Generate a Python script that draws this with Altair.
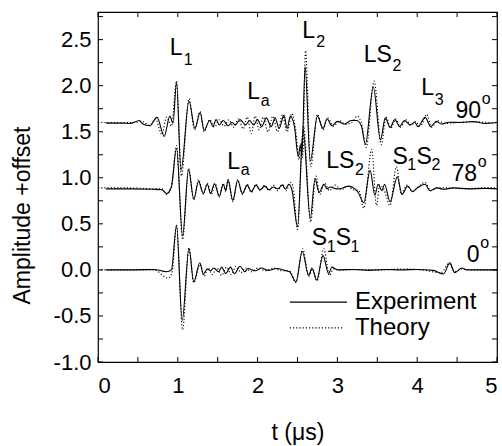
import altair as alt
import pandas as pd

# ---------------- data ----------------
exp90_t = [0.10,0.30,0.40,0.52,0.56,0.65,0.74,0.83,0.90,0.94,0.984,1.04,1.14,1.215,1.28,1.33,1.40,1.44,1.48,1.52,1.57,1.63,1.68,1.72,1.78,1.85,1.90,1.95,2.00,2.05,2.11,2.17,2.22,2.27,2.33,2.37,2.41,2.46,2.51,2.535,2.555,2.595,2.66,2.75,2.82,2.87,2.93,3.00,3.09,3.17,3.24,3.30,3.35,3.45,3.54,3.60,3.66,3.72,3.78,3.84,3.91,3.97,4.01,4.10,4.17,4.24,4.30,4.40,4.55,4.70,4.85,5.00]
exp90_v = [1.594,1.594,1.589,1.622,1.584,1.565,1.656,1.450,1.670,1.594,2.034,1.08,1.833,1.536,1.709,1.517,1.622,1.555,1.632,1.574,1.622,1.565,1.603,1.574,1.632,1.574,1.622,1.574,1.632,1.555,1.651,1.555,1.651,1.536,1.680,1.536,1.670,1.565,1.230,1.354,1.249,2.207,1.182,1.670,1.536,1.641,1.565,1.613,1.584,1.622,1.622,1.565,1.364,1.986,1.412,1.651,1.546,1.632,1.555,1.622,1.574,1.603,1.555,1.656,1.555,1.613,1.584,1.603,1.600,1.610,1.590,1.600]

th90_t = [0.0,0.30,0.45,0.55,0.65,0.72,0.80,0.86,0.92,0.984,1.045,1.14,1.21,1.28,1.33,1.40,1.46,1.52,1.58,1.64,1.70,1.76,1.82,1.87,1.92,1.97,2.02,2.07,2.13,2.19,2.25,2.31,2.37,2.43,2.48,2.52,2.545,2.565,2.60,2.665,2.75,2.82,2.88,2.95,3.03,3.10,3.18,3.25,3.31,3.36,3.46,3.55,3.61,3.67,3.73,3.79,3.86,3.92,3.98,4.04,4.12,4.18,4.26,4.35,4.50,4.70,4.90,5.00]
th90_v = [1.60,1.60,1.60,1.61,1.57,1.64,1.47,1.66,1.56,2.05,1.02,1.86,1.52,1.72,1.50,1.63,1.55,1.63,1.56,1.63,1.55,1.64,1.53,1.66,1.48,1.67,1.52,1.66,1.50,1.67,1.50,1.68,1.50,1.70,1.50,1.20,1.38,1.22,2.38,1.12,1.69,1.52,1.65,1.56,1.62,1.58,1.60,1.67,1.56,1.33,2.05,1.36,1.66,1.54,1.64,1.55,1.63,1.57,1.61,1.56,1.69,1.55,1.62,1.59,1.60,1.61,1.60,1.60]

exp78_t = [0.10,0.40,0.70,0.80,0.86,0.92,0.984,1.06,1.135,1.20,1.26,1.32,1.37,1.41,1.46,1.52,1.57,1.60,1.63,1.69,1.75,1.81,1.87,1.92,1.98,2.03,2.09,2.14,2.20,2.25,2.31,2.35,2.39,2.43,2.50,2.57,2.66,2.72,2.77,2.83,2.87,2.91,2.99,3.07,3.14,3.22,3.26,3.33,3.41,3.47,3.51,3.56,3.59,3.66,3.75,3.81,3.88,3.94,4.00,4.10,4.16,4.25,4.33,4.46,4.65,4.85,5.00]
exp78_v = [0.88,0.88,0.875,0.87,0.83,0.90,1.32,0.37,1.09,0.77,0.96,0.83,0.93,0.83,0.935,0.80,0.93,0.86,0.975,0.755,0.97,0.83,0.92,0.85,0.92,0.87,0.91,0.87,0.90,0.88,0.92,0.875,0.93,0.87,0.47,1.52,0.56,0.99,0.84,0.93,0.88,0.90,0.88,0.89,0.91,0.88,0.84,0.73,1.08,0.81,0.93,0.86,0.93,0.74,1.01,0.82,0.91,0.85,0.89,0.93,0.86,0.89,0.875,0.89,0.88,0.885,0.88]

th78_t = [0.0,0.40,0.70,0.80,0.86,0.92,0.984,1.06,1.135,1.20,1.26,1.32,1.37,1.42,1.47,1.52,1.57,1.60,1.63,1.69,1.75,1.81,1.87,1.92,1.98,2.03,2.09,2.14,2.20,2.25,2.31,2.36,2.41,2.445,2.50,2.575,2.665,2.73,2.78,2.84,2.90,2.97,3.05,3.12,3.20,3.27,3.33,3.43,3.49,3.53,3.58,3.66,3.74,3.80,3.87,3.94,4.01,4.10,4.17,4.26,4.40,4.60,4.80,5.00]
th78_v = [0.89,0.89,0.88,0.88,0.82,0.91,1.35,0.33,1.10,0.76,0.98,0.82,0.94,0.82,0.94,0.79,0.94,0.85,0.98,0.74,0.98,0.82,0.93,0.84,0.93,0.86,0.92,0.86,0.92,0.86,0.93,0.86,0.95,0.90,0.44,1.56,0.52,1.02,0.82,0.94,0.86,0.92,0.87,0.91,0.87,0.86,0.67,1.31,0.70,0.92,0.88,0.70,1.12,0.82,0.92,0.85,0.90,0.95,0.86,0.89,0.89,0.88,0.89,0.89]

exp0_t = [0.10,0.40,0.70,0.86,0.92,0.984,1.055,1.14,1.20,1.276,1.32,1.37,1.41,1.45,1.51,1.55,1.60,1.66,1.71,1.78,1.84,1.88,1.97,2.05,2.13,2.24,2.34,2.40,2.48,2.56,2.64,2.68,2.74,2.82,2.89,2.93,3.00,3.20,3.40,3.60,3.80,4.00,4.20,4.33,4.41,4.47,4.56,4.62,4.80,5.00]
exp0_v = [0.0,0.0,0.005,-0.02,0.0,0.476,-0.55,0.233,-0.131,0.077,-0.045,0.01,-0.01,0.02,-0.02,0.03,-0.04,0.03,-0.04,0.04,-0.02,0.015,-0.01,0.02,-0.005,0.015,-0.005,-0.02,-0.13,0.20,-0.06,0.02,-0.11,0.155,-0.04,0.03,0.0,0.005,-0.005,0.005,0.0,0.005,-0.005,-0.045,0.077,-0.03,0.02,0.0,0.0,0.0]

th0_t = [0.0,0.40,0.70,0.88,0.93,0.984,1.06,1.14,1.20,1.28,1.33,1.38,1.43,1.49,1.55,1.61,1.67,1.73,1.79,1.85,1.92,2.00,2.10,2.20,2.30,2.40,2.48,2.565,2.64,2.69,2.745,2.83,2.90,2.95,3.05,3.30,3.55,3.80,4.05,4.30,4.40,4.47,4.56,4.70,5.00]
th0_v = [0.0,0.0,0.0,-0.09,-0.02,0.49,-0.65,0.24,-0.14,0.06,-0.07,0.02,-0.05,0.02,-0.06,0.03,-0.05,0.04,-0.03,0.02,-0.02,0.02,-0.01,0.02,-0.01,-0.01,-0.14,0.23,-0.07,0.01,-0.12,0.23,-0.06,0.01,0.0,0.005,0.0,0.01,0.0,-0.03,0.07,-0.02,0.01,0.0,0.0]

# annotations
lab_text = ["L", "L", "LS", "L", "L", "90", "L", "LS", "S", "S", "78", "S", "S", "0"]
lab_t = [0.90, 2.56, 3.33, 1.87, 4.05, 4.48, 1.62, 2.86, 3.69, 3.99, 4.43, 2.68, 2.98, 4.62]
lab_v = [2.33, 2.52, 2.26, 1.86, 1.90, 1.65, 1.10, 1.11, 1.15, 1.15, 0.965, 0.27, 0.27, 0.09]

sub_text = ["1", "2", "2", "a", "3", "a", "2", "1", "2", "1", "1", "o", "o", "o"]
sub_t = [1.075, 2.735, 3.69, 2.04, 4.22, 1.79, 3.22, 3.875, 4.18, 2.865, 3.165, 4.81, 4.76, 4.79]
sub_v = [2.23, 2.42, 2.16, 1.78, 1.79, 1.03, 1.03, 1.08, 1.08, 0.19, 0.19, 1.80, 1.12, 0.24]

legend_names = ["Experiment", "Theory"]
legend_v = [-0.35, -0.63]
legend_t1 = [2.405, 2.405]
legend_t2 = [3.12, 3.07]
legend_text_t = [3.22, 3.22]

x_ticks = [0, 0.5, 1, 1.5, 2, 2.5, 3, 3.5, 4, 4.5, 5]
x_labels = [0, 1, 2, 3, 4, 5]
y_ticks = [-1.0, -0.75, -0.5, -0.25, 0.0, 0.25, 0.5, 0.75, 1.0, 1.25, 1.5, 1.75, 2.0, 2.25, 2.5, 2.75]
y_labels = [-1.0, -0.5, 0.0, 0.5, 1.0, 1.5, 2.0, 2.5]

# ---------------- build ----------------
W, H = 399, 350
FONT = "Liberation Sans"

def tr(ts, vs, name):
    return pd.DataFrame({"t": ts, "v": vs, "trace": name})

exp_df = pd.concat([tr(exp90_t, exp90_v, "90"), tr(exp78_t, exp78_v, "78"), tr(exp0_t, exp0_v, "0")])
th_df = pd.concat([tr(th90_t, th90_v, "90"), tr(th78_t, th78_v, "78"), tr(th0_t, th0_v, "0")])

xs = alt.Scale(domain=[0, 5], nice=False, zero=False)
ys = alt.Scale(domain=[-1.0, 2.8], nice=False, zero=False)

x_axis = alt.Axis(values=x_labels, format="d", labelFontSize=22, labelFont=FONT,
                  labelPadding=13, ticks=False, domain=False, grid=False,
                  titleFont=FONT, titleFontSize=23, titleFontWeight="normal",
                  titlePadding=25)
y_axis = alt.Axis(values=y_labels, labelFontSize=22, labelFont=FONT, labelPadding=7,
                  labelExpr="datum.value < 0 ? '-' + format(abs(datum.value), '.1f') : format(datum.value, '.1f')",
                  ticks=False, domain=False, grid=False,
                  titleFont=FONT, titleFontSize=23, titleFontWeight="normal",
                  titleX=-76, titleY=203, titleAngle=270, titleAlign="center", titleBaseline="middle")
XT = "t (μs)"
YT = "Amplitude +offset"

def X(field):
    return alt.X(field, type="quantitative", scale=xs, axis=x_axis, title=XT)

def Y(field):
    return alt.Y(field, type="quantitative", scale=ys, axis=y_axis, title=YT)

theory = alt.Chart(th_df).mark_line(color="black", strokeWidth=1.1, strokeDash=[1.2, 2],
                                    interpolate="monotone").encode(
    x=X("t"), y=Y("v"), detail="trace:N")

experiment = alt.Chart(exp_df).mark_line(color="black", strokeWidth=1.1,
                                         interpolate="monotone").encode(
    x=X("t"), y=Y("v"), detail="trace:N")

lab_df = pd.DataFrame({"t": lab_t, "v": lab_v, "txt": lab_text})
sub_df = pd.DataFrame({"t": sub_t, "v": sub_v, "txt": sub_text})

labels = alt.Chart(lab_df).mark_text(align="left", baseline="alphabetic", fontSize=23,
                                     font=FONT, color="black").encode(
    x=X("t"), y=Y("v"), text="txt:N")
subs = alt.Chart(sub_df).mark_text(align="left", baseline="alphabetic", fontSize=16,
                                   font=FONT, color="black").encode(
    x=X("t"), y=Y("v"), text="txt:N")

leg_df = pd.DataFrame({"name": legend_names, "v": legend_v, "t1": legend_t1,
                       "t2": legend_t2, "tt": legend_text_t})
leg_exp = alt.Chart(leg_df.iloc[[0]]).mark_rule(color="black", strokeWidth=1.1).encode(
    x=X("t1"), x2="t2:Q", y=Y("v"))
leg_th = alt.Chart(leg_df.iloc[[1]]).mark_rule(color="black", strokeWidth=1.1,
                                               strokeDash=[1.2, 2]).encode(
    x=X("t1"), x2="t2:Q", y=Y("v"))
leg_txt = alt.Chart(leg_df).mark_text(align="left", baseline="middle", fontSize=24,
                                      font=FONT, color="black").encode(
    x=X("tt"), y=Y("v"), text="name:N")

# inward ticks on all four sides
xt_df = pd.DataFrame({"x": x_ticks})
yt_df = pd.DataFrame({"y": y_ticks})
TL = 5
tick_b = alt.Chart(xt_df).mark_rule(color="black", strokeWidth=1).encode(
    x=X("x"), y=alt.value(H), y2=alt.value(H - TL))
tick_t = alt.Chart(xt_df).mark_rule(color="black", strokeWidth=1).encode(
    x=X("x"), y=alt.value(0), y2=alt.value(TL))
tick_l = alt.Chart(yt_df).mark_rule(color="black", strokeWidth=1).encode(
    y=Y("y"), x=alt.value(0), x2=alt.value(TL))
tick_r = alt.Chart(yt_df).mark_rule(color="black", strokeWidth=1).encode(
    y=Y("y"), x=alt.value(W), x2=alt.value(W - TL))

chart = alt.layer(
    theory, experiment, labels, subs, leg_exp, leg_th, leg_txt,
    tick_b, tick_t, tick_l, tick_r
).properties(
    width=W, height=H,
    padding={"left": 98, "top": 12, "right": 5, "bottom": 84},
    autosize=alt.AutoSizeParams(type="none"),
    background="white",
).configure_view(stroke="black", strokeWidth=1.2)

chart.save("out.html", embed_options={"renderer": "svg", "actions": False})
